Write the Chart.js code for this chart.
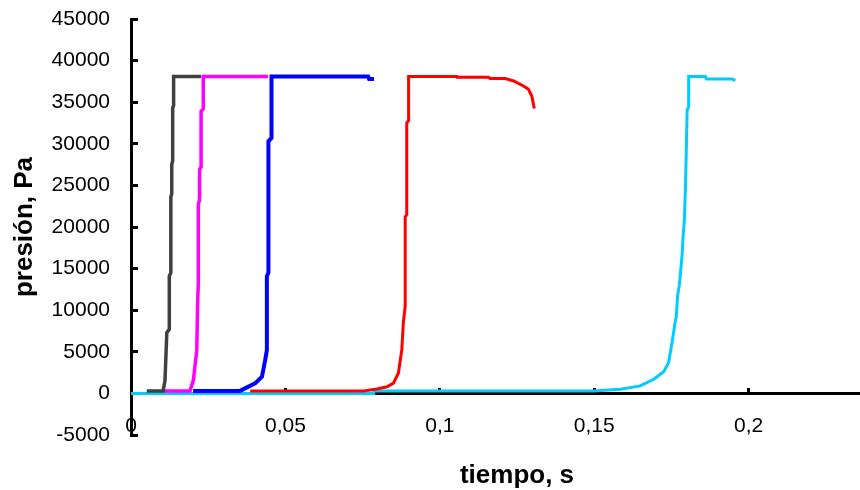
<!DOCTYPE html>
<html lang="es">
<head>
  <meta charset="UTF-8">
  <title>Presión vs tiempo</title>
  <script src="https://cdn.jsdelivr.net/npm/chart.js"></script>
  <style>
    html, body { margin: 0; padding: 0; background: #fff; }
    #wrap { width: 860px; height: 490px; overflow: hidden; }
  </style>
</head>
<body>
  <div id="wrap"><canvas id="presionChart" width="903" height="490"></canvas></div>

  <script>
    // tiempo (s) y presión (Pa) de cada curva
    const greyT = [0.0051, 0.0104, 0.0110, 0.0116, 0.0124, 0.0124, 0.0129, 0.0129, 0.0132, 0.0132, 0.0135, 0.0135, 0.0138, 0.0138, 0.0227];
    const greyP = [300, 300, 1500, 7300, 7700, 14100, 14500, 23600, 24000, 27500, 28000, 34300, 34600, 38100, 38100];

    const magentaT = [0.0104, 0.0191, 0.0202, 0.0213, 0.0216, 0.0218, 0.0218, 0.0222, 0.0222, 0.0227, 0.0227, 0.0234, 0.0234, 0.0444];
    const magentaP = [300, 300, 1600, 5200, 11300, 13100, 22800, 23200, 26900, 27200, 33900, 34200, 38100, 38100];

    const blueT = [0.0201, 0.0353, 0.0369, 0.0402, 0.0424, 0.0434, 0.0440, 0.0440, 0.0445, 0.0445, 0.0455, 0.0455, 0.0768, 0.0771, 0.0787];
    const blueP = [300, 300, 600, 1200, 2000, 3900, 5200, 14100, 14500, 30300, 30700, 38100, 38100, 37800, 37800];

    const redT = [0.0386, 0.0753, 0.0796, 0.0829, 0.0850, 0.0866, 0.0877, 0.0882, 0.0888, 0.0888, 0.0893, 0.0893, 0.0899, 0.0899, 0.1055, 0.1056, 0.1158, 0.1163, 0.1212, 0.1239, 0.1271, 0.1287, 0.1298, 0.1306];
    const redP = [300, 300, 540, 790, 1230, 2450, 5250, 8500, 10500, 21200, 21500, 32500, 32800, 38100, 38100, 38000, 38000, 37850, 37850, 37550, 36950, 36550, 35750, 34250];

    const cyanT = [0, 0.0784, 0.0786, 0.1497, 0.1585, 0.1649, 0.1693, 0.1725, 0.1741, 0.1752, 0.1761, 0.1766, 0.1770, 0.1776, 0.1780, 0.1785, 0.1788, 0.1792, 0.1796, 0.1801, 0.1806, 0.1806, 0.1860, 0.1863, 0.1947, 0.1957];
    const cyanP = [0, 0, 300, 300, 500, 900, 1700, 2600, 3700, 6100, 8300, 9300, 11700, 13100, 14700, 16800, 19000, 20800, 25400, 34100, 34400, 38100, 38100, 37800, 37800, 37600];

    const xTitle = 'tiempo, s';
    const yTitle = 'presión, Pa';

    function pts(t, p) {
      return t.map((v, i) => ({ x: v, y: p[i] }));
    }

    function serie(t, p, color, width) {
      return { data: pts(t, p), borderColor: color, borderWidth: width, pointRadius: 0, fill: false, tension: 0 };
    }

    const fam = '"Liberation Sans", Arial, sans-serif';
    Chart.defaults.font.family = fam;
    Chart.defaults.color = '#000';

    const ctx = document.getElementById('presionChart').getContext('2d');
    new Chart(ctx, {
      type: 'line',
      data: {
        datasets: [
          serie(greyT, greyP, '#404040', 3.5),
          serie(magentaT, magentaP, '#ff00ff', 3.5),
          serie(blueT, blueP, '#0000ff', 4),
          serie(redT, redP, '#ff0000', 3),
          serie(cyanT, cyanP, '#00ccff', 3)
        ]
      },
      options: {
        responsive: false,
        animation: false,
        devicePixelRatio: 1,
        layout: { padding: { top: 19, left: 0, right: 0, bottom: 0 } },
        plugins: { legend: { display: false }, tooltip: { enabled: false } },
        scales: {
          x: {
            type: 'linear',
            position: { y: 0 },
            min: 0,
            max: 0.25,
            afterBuildTicks: s => { s.ticks = s.ticks.filter(t => t.value <= 0.2001); },
            ticks: {
              stepSize: 0.05,
              padding: 27,
              font: { size: 21 },
              color: '#000',
              callback: v => String(Math.round(v * 100) / 100).replace('.', ',')
            },
            grid: { drawOnChartArea: false, drawTicks: true, tickLength: -7, tickWidth: 3, tickColor: '#000' },
            border: { display: true, color: '#000', width: 3 }
          },
          xt: {
            type: 'linear',
            position: 'bottom',
            min: 0,
            max: 0.25,
            ticks: { display: false },
            grid: { display: false },
            border: { display: false },
            title: { display: true, text: xTitle, font: { size: 26, weight: 'bold', lineHeight: 1 }, padding: { top: 0, bottom: 1 }, color: '#000' },
            afterFit: s => { s.height = 55; }
          },
          y: {
            type: 'linear',
            position: 'left',
            min: -5000,
            max: 45000,
            ticks: {
              stepSize: 5000,
              padding: 28,
              font: { size: 21 },
              color: '#000',
              callback: v => String(v)
            },
            grid: { drawOnChartArea: false, drawTicks: true, tickLength: -7, tickWidth: 3, tickColor: '#000' },
            border: { display: true, color: '#000', width: 3 },
            title: { display: true, text: yTitle, font: { size: 26, weight: 'bold', lineHeight: 1 }, padding: { top: 12, bottom: 0 }, color: '#000' },
            afterFit: s => { s.width = 131; s.paddingTop = 0; s.paddingBottom = 0; }
          }
        }
      }
    });
  </script>
</body>
</html>
